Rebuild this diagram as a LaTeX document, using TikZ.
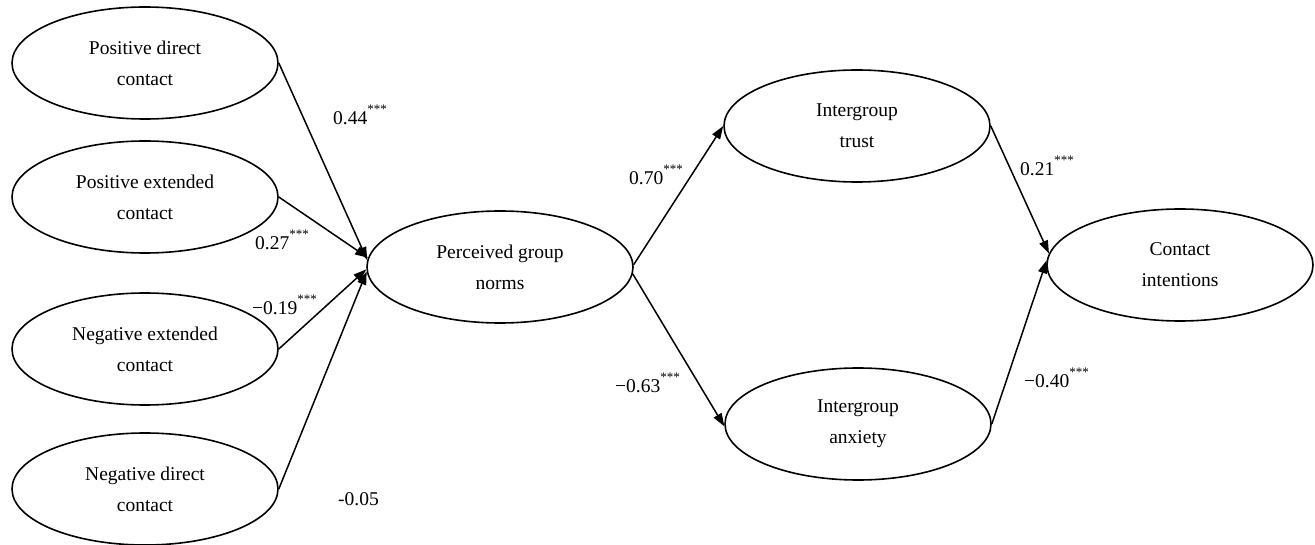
\documentclass[tikz,border=0pt]{standalone}
\usepackage{fontspec}
\setmainfont{Liberation Serif}
\usetikzlibrary{shapes.geometric,arrows.meta}
\newcommand\sigstars{\raisebox{11pt}{\fontsize{13}{13}\selectfont ***}}
\tikzset{
  latent/.style={draw, ellipse, line width=1.6pt, minimum width=266pt, minimum height=112pt, inner sep=0pt, align=center, font=\fontsize{19.5}{31}\selectfont},
  path/.style={line width=1.5pt, -{Triangle[length=13pt,width=9pt]}},
  coef/.style={anchor=base west, inner sep=0pt, font=\fontsize{19.5}{22}\selectfont}
}
\begin{document}
\begin{tikzpicture}[x=1pt,y=-1pt]
\useasboundingbox (0,0) rectangle (1315,545);
\node[latent] (pdc) at (145,63) {Positive direct\\contact};
\node[latent] (pec) at (145,197) {Positive extended\\contact};
\node[latent] (nec) at (145,349) {Negative extended\\contact};
\node[latent] (ndc) at (145,489) {Negative direct\\contact};
\node[latent] (pgn) at (500,267) {Perceived group\\norms};
\node[latent] (trust) at (857,126) {Intergroup\\trust};
\node[latent] (anx) at (858,424) {Intergroup\\anxiety};
\node[latent] (ci) at (1180,265) {Contact\\intentions};

\draw[path] (pdc.east) -- (pgn.177);
\draw[path] (pec.east) -- (pgn.176);
\draw[path] (nec.east) -- (pgn.181);
\draw[path] (ndc.east) -- (pgn.182);
\draw[path] (pgn.1) -- (trust.180);
\draw[path] (pgn.357) -- (anx.181);
\draw[path] (trust.east) -- (ci.175);
\draw[path] (anx.east) -- (ci.178);

\node[coef] (l1) at (333,125) {0.44\sigstars};
\node[coef] (l2) at (255,250) {0.27\sigstars};
\node[coef] (l3) at (252,315) {−0.19\sigstars};
\node[coef] (l4) at (338,505) {-0.05};
\node[coef] (l5) at (629,185) {0.70\sigstars};
\node[coef] (l6) at (615,392) {−0.63\sigstars};
\node[coef] (l7) at (1020,176) {0.21\sigstars};
\node[coef] (l8) at (1024,388) {−0.40\sigstars};
\end{tikzpicture}
\end{document}
